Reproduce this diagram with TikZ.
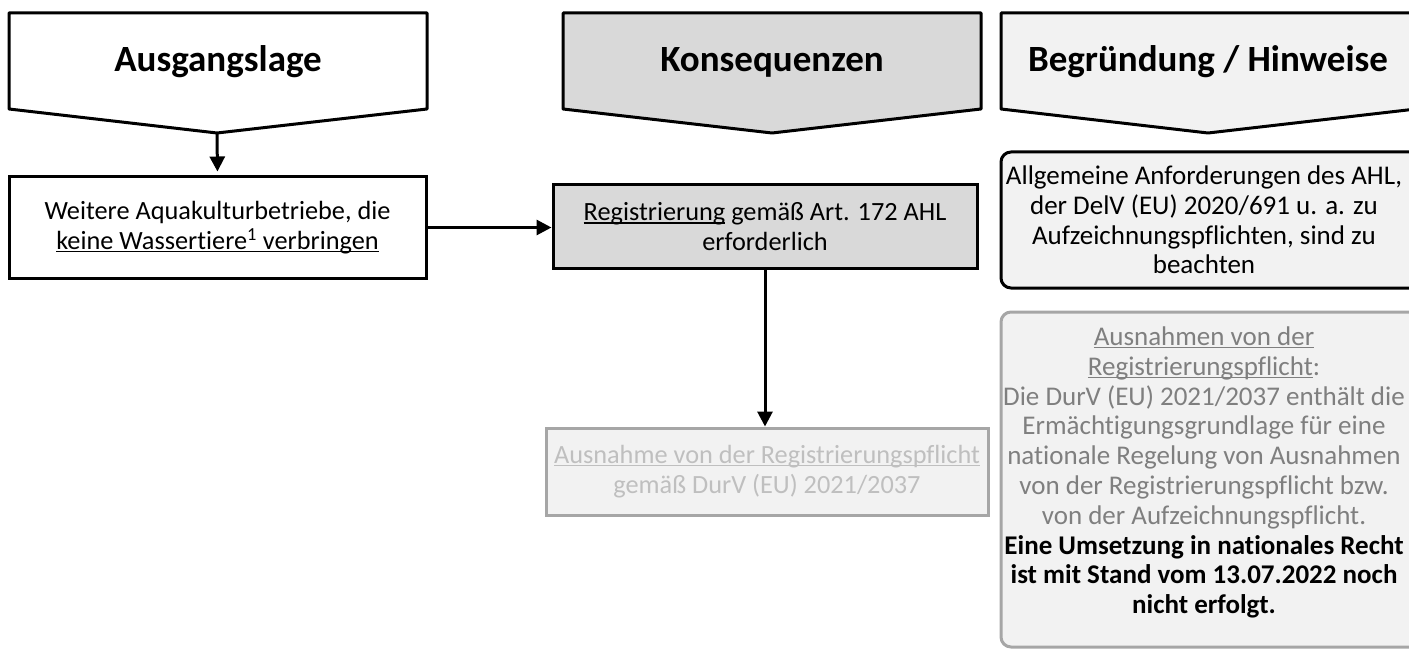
\documentclass[tikz,border=0pt]{standalone}
\usepackage{fontspec}
\setmainfont{Carlito}[Ligatures=NoCommon]
\usetikzlibrary{arrows.meta}
\definecolor{kfill}{HTML}{D9D9D9}
\definecolor{hfill}{HTML}{F2F2F2}
\definecolor{gline}{HTML}{A6A6A6}
\definecolor{gtext}{HTML}{BFBFBF}
\definecolor{htext}{HTML}{7F7F7F}
\newsavebox{\ulnbox}
\newcommand{\uln}[1]{\sbox{\ulnbox}{#1}\rlap{\rule[-3pt]{\wd\ulnbox}{1.4pt}}\usebox{\ulnbox}}

\begin{document}
\begin{tikzpicture}[x=1pt,y=-1pt,
  box/.style={draw,line width=3pt,inner sep=0pt,align=center,font=\fontsize{26.3}{29.8}\selectfont},
  note/.style={inner sep=0pt,align=center,font=\fontsize{27}{29.8}\selectfont},
  head/.style={font=\bfseries\fontsize{37}{44}\selectfont},
  pent/.style={draw,line width=3pt,line join=round},
  arr/.style={line width=3pt,-{Triangle[length=15pt,width=15pt]}}]
  \useasboundingbox (0,0) rectangle (1409,650);
  \def\ya{13};
  \def\yb{109};
  \def\yc{133};
  %headers
  \draw[pent,fill=white] (9,\ya)--(427,\ya)--(427,\yb)--(217,\yc)--(9,\yb)--cycle;
  \draw[pent,fill=kfill] (563,\ya)--(981,\ya)--(981,\yb)--(772,\yc)--(563,\yb)--cycle;
  \draw[pent,fill=hfill] (1001,\ya)--(1416,\ya)--(1416,\yb)--(1208,\yc)--(1001,\yb)--cycle;
  \coordinate (ausTip) at (217,\yc);
  \node[head] (ausHead) at (218,62) {Ausgangslage};
  \node[head] (konHead) at (772,62) {Konsequenzen};
  \node[head] (begHead) at (1208,62) {Begründung / Hinweise};
  %boxes
  \node[box,minimum width=417,minimum height=101] (weitere) at (217.5,227.5)
    {Weitere Aquakulturbetriebe, die\\ \uln{keine Wassertiere\textsuperscript{1} verbringen}};
  \node[box,fill=kfill,minimum width=424,minimum height=83] (regis) at (765,226.5)
    {\uln{Registrierung} gemäß Art. 172 AHL\\ erforderlich};
  \node[box,draw=gline,fill=hfill,text=gtext,minimum width=442,minimum height=87] (ausn) at (767,471.5)
    {\uln{Ausnahme von der Registrierungspflicht}\\ gemäß DurV (EU) 2021/2037};
  %right column
  \node[box,fill=hfill,rounded corners=10pt,minimum width=419,minimum height=136] (allg) at (1210.5,220) {};
  \node[box,draw=gline,fill=hfill,rounded corners=10pt,minimum width=419,minimum height=335] (ausnR) at (1210.5,479.5) {};
  \node[note] (allgText) at (1204,220)
    {Allgemeine Anforderungen des AHL,\\ der DelV (EU) 2020/691 u. a. zu\\ Aufzeichnungspflichten, sind zu\\ beachten};
  \node[note,text=htext] (ausnRText) at (1204,472.5)
    {\uln{Ausnahmen von der}\\ \uln{Registrierungspflicht}:\\ Die DurV (EU) 2021/2037 enthält die\\
     Ermächtigungsgrundlage für eine\\ nationale Regelung von Ausnahmen\\ von der Registrierungspflicht bzw.\\
     von der Aufzeichnungspflicht.\\ \textcolor{black}{\bfseries Eine Umsetzung in nationales Recht}\\
     \textcolor{black}{\bfseries ist mit Stand vom 13.07.2022 noch}\\ \textcolor{black}{\bfseries nicht erfolgt.}};
  %arrows
  \draw[arr,shorten >=4pt] (ausTip) -- (weitere.north);
  \draw[arr] (weitere.east) -- (weitere.east -| regis.west);
  \draw[arr] (regis.south) -- (regis.south |- ausn.north);
\end{tikzpicture}
\end{document}
